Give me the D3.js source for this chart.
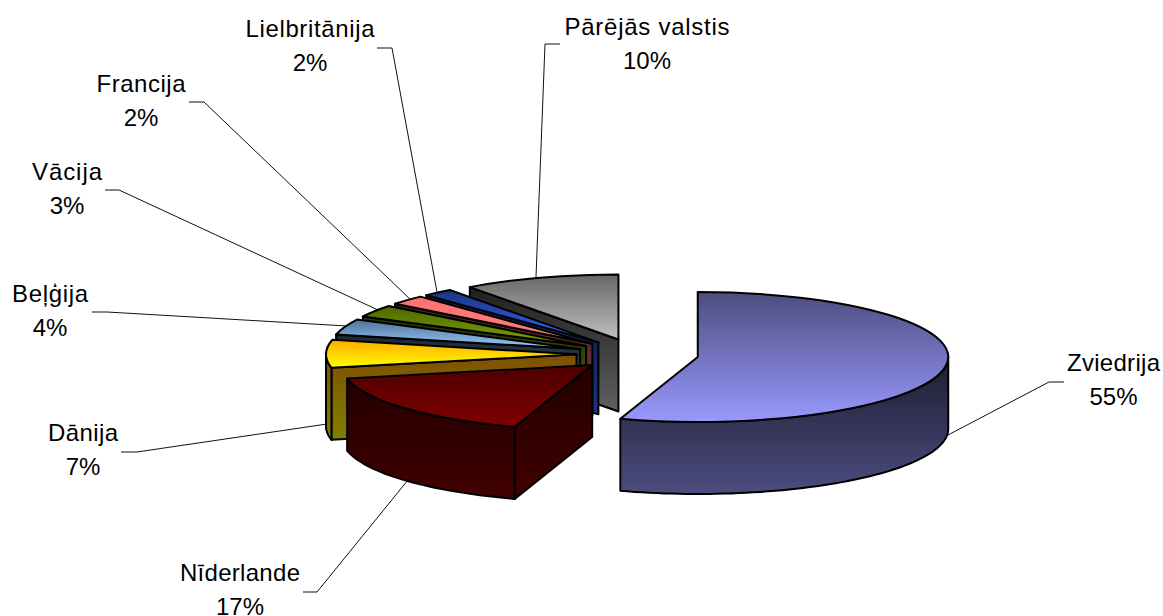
<!DOCTYPE html>
<html lang="lv"><head><meta charset="utf-8">
<script src="https://cdn.jsdelivr.net/npm/d3@7/dist/d3.min.js"></script>
<style>html,body{margin:0;padding:0;background:#fff}svg{display:block}
text{font-family:"Liberation Sans",Arial,sans-serif;font-size:24px;fill:#000;text-anchor:middle}</style>
</head><body><svg id="c" width="1163" height="616"></svg>
<script>
// Data
const categories = ["Zviedrija","Nīderlande","Dānija","Beļģija","Vācija","Francija","Lielbritānija","Pārējās valstis"];
const values = [55, 16.67, 6.94, 3.89, 3.06, 2.39, 1.94, 10.11];
const labels = ["55%","17%","7%","4%","3%","2%","2%","10%"];
// Colours: [top-face top, top-face bottom, wall top, wall bottom]
const topDark  = ["#4d4d80","#4d0000","#ffaa00","#4d7399","#4d6600","#ff7070","#1a3380","#666666"];
const topLight = ["#9999ff","#800000","#ffff00","#99ccff","#80a800","#ff8080","#3366ff","#c0c0c0"];
const wallDark = ["#1c1c30","#240000","#805000","#1a2633","#223300","#402020","#0d1a40","#202020"];
const wallLight= ["#4d4d80","#400000","#808000","#4d6680","#4d6600","#804040","#1a3380","#606060"];
// Layout of labels: text centre, first baseline, name width, leader polyline
const labelLayout = [
 {x:1113.5,y:371,w:93,l:[[1064,382],[1049,382],[948,435]]},
 {x:240,y:581,w:120,l:[[303,592],[317,592],[408,480]]},
 {x:83,y:441,w:70,l:[[121,452],[137,452],[327,424]]},
 {x:50,y:302,w:76,l:[[92,312],[107,312],[347,326]]},
 {x:67,y:180,w:70,l:[[105,190],[119,190],[378,310]]},
 {x:141,y:92,w:89,l:[[189,102],[204,102],[411,300]]},
 {x:310,y:37,w:129,l:[[377,48],[392,48],[437,292]]},
 {x:647,y:35,w:165,l:[[560,44],[545,44],[536,277]]}
];
const cx=637.5, cy=354.5, rx=250.5, ry=65, depth=72, explode=61, lineH=33.5;
const drawOrder=[7,6,5,4,3,2,1,0];

const svg=d3.select("#c");
const defs=svg.append("defs");
const sx=d3.scaleLinear().domain([-1,1]).range([-rx,rx]);
const sy=d3.scaleLinear().domain([-1,1]).range([-ry,ry]);
const grad=(id,c0,c1)=>{const g=defs.append("linearGradient").attr("id",id).attr("x1",0).attr("y1",0).attr("x2",0).attr("y2",1);
 g.append("stop").attr("offset",0).attr("stop-color",c0);g.append("stop").attr("offset",1).attr("stop-color",c1);};
categories.forEach((c,i)=>{grad("t"+i,topDark[i],topLight[i]);grad("w"+i,wallDark[i],wallLight[i]);});

const pie=d3.pie().sort(null).value(d=>d);
const arcs=pie(values);
const arc=d3.arc().innerRadius(0).outerRadius(rx);
const line=d3.line();
const rim=(a,ap,dz=0)=>[ap[0]+sx(Math.sin(a)),ap[1]+sy(-Math.cos(a))+dz];

// leaders below the pie
const leaders=svg.append("g").attr("fill","none").attr("stroke","#111").attr("stroke-width",1);
labelLayout.forEach(d=>leaders.append("path").attr("d",line(d.l)));

const P=Math.PI;
const style=(s,i,k)=>s.attr("fill",`url(#${k}${i})`).attr("stroke","#000").attr("stroke-width",2).attr("stroke-linejoin","round");
drawOrder.forEach(i=>{
 const a=arcs[i],a0=a.startAngle,a1=a.endAngle,mid=(a0+a1)/2;
 const ap=[cx+explode*Math.sin(mid),cy-explode*(ry/rx)*Math.cos(mid)];
 const g=svg.append("g").attr("class","slice");
 // radial wall at the start angle, when it faces the viewer
 if(Math.cos(a0-P/2)<-1e-6){
  const r=rim(a0,ap);
  style(g.append("path").attr("d",line([ap,r,[r[0],r[1]+depth],[ap[0],ap[1]+depth]])+"Z"),i,"w");
 }
 // outer wall
 const b0=Math.max(a0,P/2),b1=Math.min(a1,3*P/2);
 if(b1>b0){
  const n=Math.max(2,Math.ceil((b1-b0)/0.03));
  const ang=d3.range(n+1).map(k=>b0+(b1-b0)*k/n);
  const upper=ang.map(t=>rim(t,ap)),lower=ang.slice().reverse().map(t=>rim(t,ap,depth));
  style(g.append("path").attr("d",line(upper.concat(lower))+"Z"),i,"w");
 }
 // top face
 style(g.append("path").attr("d",arc(a)).attr("transform",`translate(${ap[0]},${ap[1]}) scale(1,${ry/rx})`).attr("vector-effect","non-scaling-stroke"),i,"t");
});

// labels
const tg=svg.append("g");
categories.forEach((c,i)=>{
 const d=labelLayout[i];
 tg.append("text").attr("x",d.x).attr("y",d.y).attr("textLength",d.w).attr("lengthAdjust","spacing").text(c);
 tg.append("text").attr("x",d.x).attr("y",d.y+lineH).text(labels[i]);
});
</script></body></html>
